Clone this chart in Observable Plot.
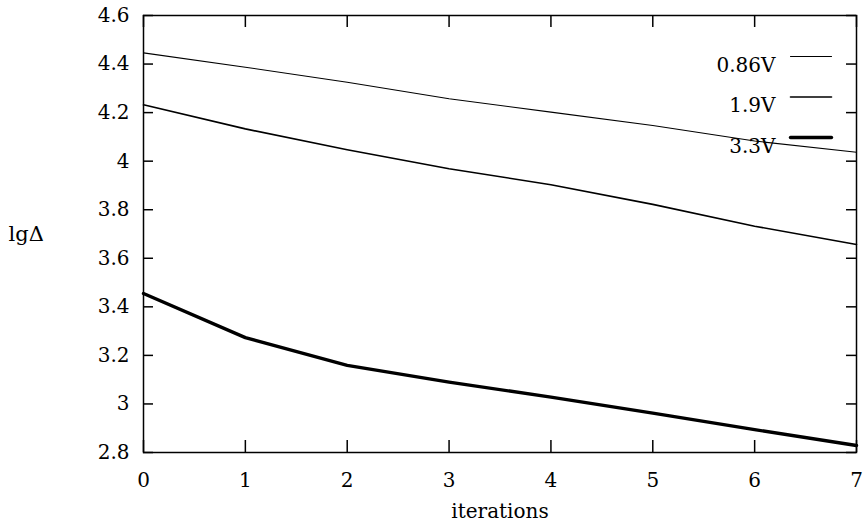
<!DOCTYPE html>
<html>
<head>
<meta charset="utf-8">
<script src="https://cdn.jsdelivr.net/npm/d3@7"></script>
<script src="https://cdn.jsdelivr.net/npm/@observablehq/plot@0.6"></script>
<style>
  html, body { margin: 0; padding: 0; background: #fff; }
  #chart svg { font-family: "DejaVu Serif", serif; background: #fff; color: #000; }
</style>
</head>
<body>
<div id="chart"></div>
<script>
const iterations = [0, 1, 2, 3, 4, 5, 6, 7];
const v086 = [4.446, 4.387, 4.325, 4.257, 4.202, 4.147, 4.083, 4.037];
const v19  = [4.232, 4.133, 4.047, 3.969, 3.903, 3.822, 3.732, 3.657];
const v33  = [3.455, 3.273, 3.159, 3.090, 3.028, 2.962, 2.894, 2.829];
const seriesNames = ["0.86V", "1.9V", "3.3V"];
const seriesWidths = [1.1, 1.6, 3.4];
const xTicks = [0, 1, 2, 3, 4, 5, 6, 7];
const yTicks = [2.8, 3.0, 3.2, 3.4, 3.6, 3.8, 4.0, 4.2, 4.4, 4.6];
const xLabel = "iterations";
const yLabel = "lgΔ";

const seriesValues = [v086, v19, v33];
const rows = seriesNames.flatMap((name, s) =>
  iterations.map((it, i) => ({series: name, x: it, y: seriesValues[s][i]})));

const W = 864, H = 527, mL = 143, mR = 8, mT = 15, mB = 75;
const frameW = W - mL - mR, frameH = H - mT - mB;
const FS = 20;
const lineShape = {draw(ctx, l) { ctx.moveTo(0, 0); ctx.lineTo(0, -l); }};

const fmt = d => String(+d.toFixed(1));
const legendMarks = seriesNames.flatMap((name, i) => [
  Plot.text([name], {text: d => d, frameAnchor: "top-right", dx: -81, dy: 42 + 40.5 * i,
    textAnchor: "end", fontSize: FS, fill: "black"}),
  Plot.vector([name], {frameAnchor: "top-right", dx: -66, dy: 41 + 40.5 * i, rotate: 90, length: 41,
    anchor: "start", stroke: "black", strokeWidth: seriesWidths[i], shape: lineShape})
]);

// inward tick marks on all four sides of the frame
const tickMarks = [
  Plot.ruleX(xTicks, {x: d => d, insetTop: frameH - 12, stroke: "black", strokeWidth: 1.5}),
  Plot.ruleX(xTicks, {x: d => d, insetBottom: frameH - 12, stroke: "black", strokeWidth: 1.5}),
  Plot.ruleY(yTicks, {y: d => d, insetRight: frameW - 10, stroke: "black", strokeWidth: 1.5}),
  Plot.ruleY(yTicks, {y: d => d, insetLeft: frameW - 10, stroke: "black", strokeWidth: 1.5})
];

const chart = Plot.plot({
  width: W,
  height: H,
  marginLeft: mL,
  marginRight: mR,
  marginTop: mT,
  marginBottom: mB,
  x: {domain: [0, 7]},
  y: {domain: [2.8, 4.6]},
  marks: [
    Plot.frame({stroke: "black", fill: "none", strokeWidth: 1.5}),
    ...tickMarks,
    Plot.axisX(xTicks, {anchor: "bottom", tickSize: 0, tickPadding: 20, tickFormat: d => String(d), label: null, fontSize: FS, fill: "black"}),
    Plot.axisY(yTicks, {anchor: "left", tickSize: 0, tickPadding: 14, tickFormat: fmt, label: null, fontSize: FS, fill: "black"}),
    Plot.text([xLabel], {text: d => d, frameAnchor: "bottom", dy: 65, fontSize: FS, fill: "black"}),
    Plot.text([yLabel], {text: d => d, frameAnchor: "left", dx: -135, textAnchor: "start", fontSize: FS + 1, fill: "black"}),
    ...legendMarks,
    ...seriesNames.map((name, i) =>
      Plot.line(rows.filter(r => r.series === name), {x: "x", y: "y", stroke: "black", strokeWidth: seriesWidths[i]}))
  ]
});
document.getElementById("chart").appendChild(chart);
</script>
</body>
</html>
